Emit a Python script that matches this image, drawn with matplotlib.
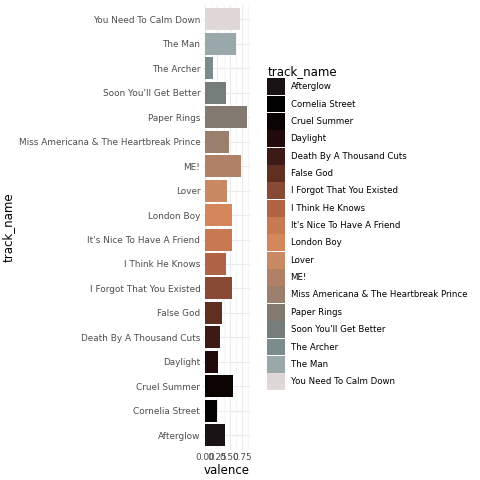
import matplotlib
matplotlib.use("Agg")
from matplotlib import pyplot as plt
from matplotlib.patches import Patch
import numpy as np

TRACKS = ["Afterglow", "Cornelia Street", "Cruel Summer", "Daylight",
          "Death By A Thousand Cuts", "False God", "I Forgot That You Existed",
          "I Think He Knows", "It's Nice To Have A Friend", "London Boy",
          "Lover", "ME!", "Miss Americana & The Heartbreak Prince",
          "Paper Rings", "Soon You'll Get Better", "The Archer", "The Man",
          "You Need To Calm Down"]
VALENCE = [0.399, 0.248, 0.564, 0.265, 0.313, 0.351, 0.541, 0.416, 0.545,
           0.557, 0.453, 0.728, 0.487, 0.865, 0.421, 0.166, 0.633, 0.714]
COLOURS = ["#191214", "#030202", "#0b0202", "#210a09", "#3c1a15", "#5f3022",
           "#884935", "#b06443", "#c77a51", "#d5875c", "#c88963", "#b08166",
           "#9a7f6c", "#827a70", "#757d7a", "#7b8c8f", "#9aa8ab", "#e0d8d6"]

fig = plt.figure(figsize=(4.8, 4.8), dpi=100)
ax = fig.add_axes([0.423, 0.063, 0.097, 0.927])

y = np.arange(len(TRACKS))
ax.barh(y, VALENCE, height=0.9, color=COLOURS, zorder=3)

xmax = max(VALENCE)
ax.set_xlim(-0.05 * xmax, xmax * 1.05)
ax.set_ylim(-0.6, len(TRACKS) - 0.4)
ax.set_xticks([0, 0.25, 0.5, 0.75])
ax.set_xticklabels(["0.00", "0.25", "0.50", "0.75"])
ax.set_xticks([0.125, 0.375, 0.625, 0.875], minor=True)
ax.set_yticks(y)
ax.set_yticklabels(TRACKS)

ax.grid(True, which="major", color="#ebebeb", linewidth=0.8, zorder=0)
ax.grid(True, which="minor", axis="x", color="#f3f3f3", linewidth=0.5, zorder=0)
for s in ax.spines.values():
    s.set_visible(False)
ax.tick_params(which="both", length=0, labelsize=6.4, labelcolor="#4d4d4d", pad=2)
ax.set_xlabel("valence", fontsize=8.5, labelpad=2)
ax.set_ylabel("track_name", fontsize=8.5)
ax.yaxis.set_label_coords(-4.05, 0.5)

handles = [Patch(facecolor=c, edgecolor="none") for c in COLOURS]
leg = fig.legend(handles, TRACKS, title="track_name", loc="upper left",
                 bbox_to_anchor=(0.557, 0.865), frameon=False, fontsize=6.2,
                 title_fontsize=8.5, handlelength=2.0, handleheight=2.63,
                 labelspacing=0.06, handletextpad=0.7, borderaxespad=0,
                 borderpad=0)
leg._legend_box.align = "left"

fig.savefig("out.png", dpi=100)
